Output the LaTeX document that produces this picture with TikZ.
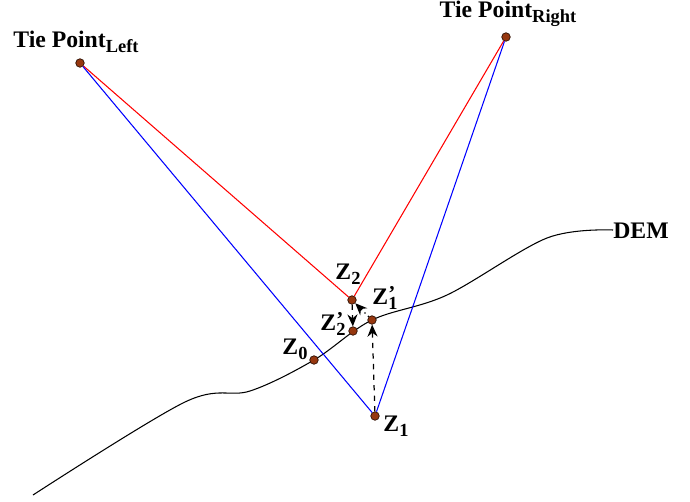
\documentclass[tikz,border=0pt]{standalone}
\usepackage{fontspec}
\setmainfont{Liberation Serif}
\usetikzlibrary{arrows.meta}
\definecolor{dotbrown}{RGB}{150,55,15}
\newcommand{\sublab}[2]{#1\raisebox{-0.45ex}{\fontsize{10.5}{12}\selectfont #2}}
\newcommand{\primelab}[1]{Z\rlap{\raisebox{0.35ex}{\fontsize{12}{12}\selectfont \textquoteright}}\raisebox{-0.45ex}{\fontsize{10.5}{12}\selectfont #1}}
\begin{document}
\begin{tikzpicture}[
    x=0.02cm, y=-0.02cm,
    font=\fontsize{13.5}{16}\selectfont\bfseries,
    pt/.style={circle, draw=black!70!dotbrown, fill=dotbrown, line width=0.4pt,
               inner sep=0pt, minimum size=1.7mm},
    lbl/.style={inner sep=1pt},
    redray/.style={draw=red, line width=0.6pt},
    blueray/.style={draw=blue, line width=0.6pt},
    move/.style={draw=black, dashed, line width=0.7pt, -{Stealth[length=2.4mm, width=2mm]}},
  ]
  \useasboundingbox (0,0) rectangle (690,501);
  % terrain profile
  \draw[line width=0.6pt] plot[smooth, tension=0.55] coordinates {
    (33,495) (185,402) (250,391) (314,360)
    (372,320) (447,295) (547,238) (613,230)};
  % points
  \node[pt] (tl)  at (80,63)   {};
  \node[pt] (tr)  at (506,37)  {};
  \node[pt] (z2)  at (352,300) {};
  \node[pt] (z1p) at (372,320) {};
  \node[pt] (z2p) at (353,331) {};
  \node[pt] (z0)  at (314,360) {};
  \node[pt] (z1)  at (375,416) {};
  % rays
  \draw[redray]  (tl) -- (z2);
  \draw[redray]  (tr) -- (z2);
  \draw[blueray] (tl) -- (z1);
  \draw[blueray] (tr) -- (z1);
  % iterations
  \draw[move] (z1) -- (z1p);
  \draw[move, dotted] (z1p) -- (z2);
  \draw[move] (z2) -- (z2p);
  % labels
  \node[lbl] (tllab)  at (76,42)   {\sublab{Tie Point}{Left}};
  \node[lbl] (trlab)  at (508,14)  {\sublab{Tie Point}{Right}};
  \node[lbl] (dem)    at (641,231) {DEM};
  \node[lbl] (z2lab)  at (348,274) {\sublab{Z}{2}};
  \node[lbl] (z1plab) at (385,298) {\primelab{1}};
  \node[lbl] (z2plab) at (333,324) {\primelab{2}};
  \node[lbl] (z0lab)  at (295,349) {\sublab{Z}{0}};
  \node[lbl] (z1lab)  at (396,426) {\sublab{Z}{1}};
\end{tikzpicture}
\end{document}
